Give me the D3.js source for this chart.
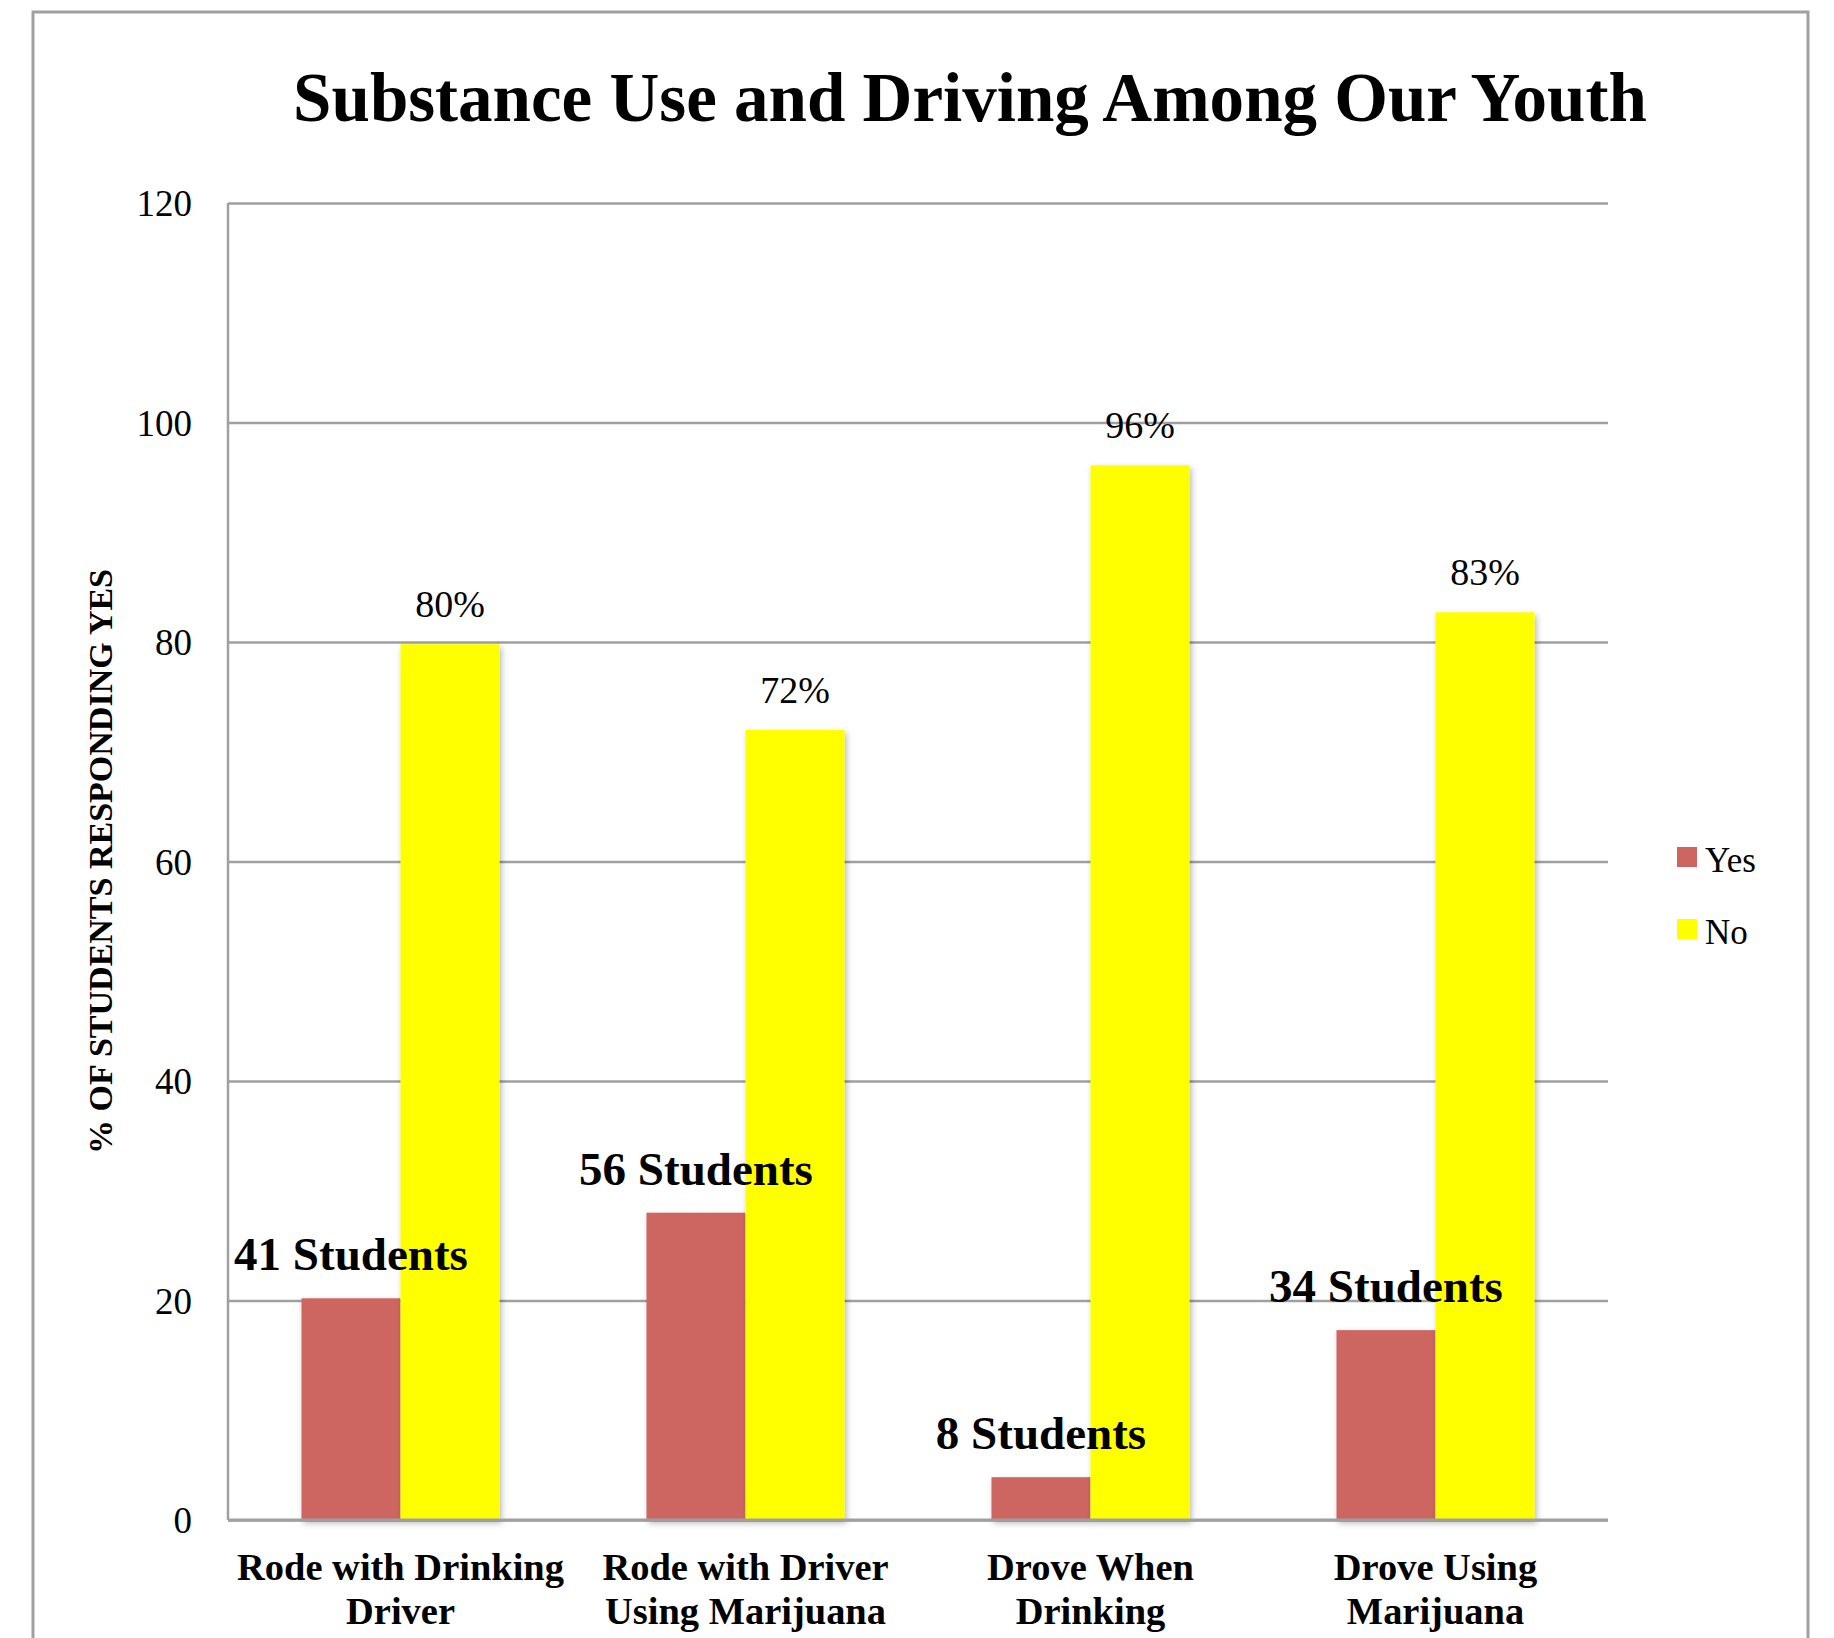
<!DOCTYPE html>
<html>
<head>
<meta charset="utf-8">
<script src="https://cdn.jsdelivr.net/npm/d3@7"></script>
<style>
  html, body { margin: 0; padding: 0; background: #fff; }
  svg { display: block; }
  text { font-family: "Liberation Serif", "Times New Roman", serif; fill: #000; }
</style>
</head>
<body>
<svg id="chart" width="1834" height="1638"></svg>
<script>
// ---- data ----
const categories = [
  ["Rode with Drinking", "Driver"],
  ["Rode with Driver", "Using Marijuana"],
  ["Drove When", "Drinking"],
  ["Drove Using", "Marijuana"]
];
const seriesNames = ["Yes", "No"];
const yesValues = [20.2, 28.0, 3.9, 17.3];
const noValues = [79.8, 72.0, 96.1, 82.7];
const yesLabels = ["41 Students", "56 Students", "8 Students", "34 Students"];
const noLabels = ["80%", "72%", "96%", "83%"];
const yTicks = [0, 20, 40, 60, 80, 100, 120];
const colors = ["#CD6660", "#FFFF00"];
const titleText = "Substance Use and Driving Among Our Youth";
const yTitleText = "% OF STUDENTS RESPONDING YES";

// ---- layout ----
const svg = d3.select("#chart");
const plot = { left: 228, right: 1608, top: 203, bottom: 1520 };

function fitWidth(sel, target) {
  const node = sel.node();
  const fs = parseFloat(sel.attr("font-size"));
  const w = node.getComputedTextLength();
  sel.attr("font-size", (fs * target / w).toFixed(2));
}

// outer border
svg.append("rect")
  .attr("x", 33).attr("y", 12)
  .attr("width", 1808 - 33).attr("height", 1700)
  .attr("fill", "none").attr("stroke", "#a0a0a0").attr("stroke-width", 3);

// drop shadow filter
const defs = svg.append("defs");
const f = defs.append("filter").attr("id", "shadow")
  .attr("x", "-10%").attr("y", "-10%").attr("width", "130%").attr("height", "130%");
f.append("feDropShadow").attr("dx", 2).attr("dy", 3).attr("stdDeviation", 3)
  .attr("flood-color", "#000").attr("flood-opacity", 0.28);

const y = d3.scaleLinear().domain([0, 120]).range([plot.bottom, plot.top]);
const x0 = d3.scaleBand().domain(d3.range(categories.length))
  .range([plot.left, plot.right]).paddingInner(0.426).paddingOuter(0.213);
const x1 = d3.scaleBand().domain(seriesNames).range([0, x0.bandwidth()]);

// grid lines
const yAxis = d3.axisLeft(y).tickValues(yTicks)
  .tickSize(-(plot.right - plot.left)).tickPadding(36).tickFormat(d3.format("d"));
const gy = svg.append("g").attr("transform", `translate(${plot.left},0)`).call(yAxis);
gy.select(".domain").remove();
gy.selectAll(".tick line").attr("stroke", "#a0a0a0").attr("stroke-width", 2.5);
gy.selectAll(".tick text")
  .attr("font-family", "Liberation Serif, serif")
  .attr("font-size", 37).attr("fill", "#000").attr("dy", "0.34em");

// left axis line
svg.append("line")
  .attr("x1", plot.left).attr("x2", plot.left)
  .attr("y1", y(120)).attr("y2", y(0))
  .attr("stroke", "#a0a0a0").attr("stroke-width", 2.5);

// bars
const data = categories.map((c, i) => ({ i, vals: [yesValues[i], noValues[i]] }));
const groups = svg.append("g").selectAll("g").data(data).join("g")
  .attr("transform", d => `translate(${x0(d.i)},0)`);
groups.selectAll("rect")
  .data(d => d.vals.map((v, k) => ({ k, v })))
  .join("rect")
  .attr("x", d => x1(seriesNames[d.k]))
  .attr("y", d => y(d.v))
  .attr("width", x1.bandwidth())
  .attr("height", d => y(0) - y(d.v))
  .attr("fill", d => colors[d.k])
  .attr("filter", "url(#shadow)");

// baseline redraw on top
svg.append("line")
  .attr("x1", plot.left).attr("x2", plot.right)
  .attr("y1", y(0)).attr("y2", y(0))
  .attr("stroke", "#a0a0a0").attr("stroke-width", 3);

// "No" percentage labels
svg.append("g").selectAll("text").data(data).join("text")
  .attr("x", d => x0(d.i) + x1("No") + x1.bandwidth() / 2)
  .attr("y", d => y(noValues[d.i]) - 27)
  .attr("text-anchor", "middle")
  .attr("font-size", 38)
  .text(d => noLabels[d.i]);

// "Yes" student labels
svg.append("g").selectAll("text").data(data).join("text")
  .attr("x", d => x0(d.i) + x1("Yes") + x1.bandwidth() / 2)
  .attr("y", d => y(yesValues[d.i]) - 28)
  .attr("text-anchor", "middle")
  .attr("font-size", 47).attr("font-weight", "bold")
  .text(d => yesLabels[d.i]);

// category labels
const catG = svg.append("g");
const catTexts = catG.selectAll("text").data(data).join("text")
  .attr("text-anchor", "middle")
  .attr("font-size", 36).attr("font-weight", "bold")
  .attr("transform", d => `translate(${x0(d.i) + x0.bandwidth() / 2},0)`);
catTexts.each(function(d) {
  const t = d3.select(this);
  categories[d.i].forEach((line, li) => {
    t.append("tspan").attr("x", 0).attr("y", 1580 + li * 44).text(line);
  });
});
// fit category font so "Rode with Drinking" matches the reference width
{
  const first = catTexts.filter(d => d.i === 0).select("tspan").node();
  const w = first.getComputedTextLength();
  const fs = 36 * 327 / w;
  catTexts.attr("font-size", fs.toFixed(2));
}

// title
const title = svg.append("text")
  .attr("x", 970).attr("y", 121)
  .attr("text-anchor", "middle")
  .attr("font-size", 70).attr("font-weight", "bold")
  .text(titleText);
fitWidth(title, 1354);

// y axis title
const yTitle = svg.append("text")
  .attr("transform", `translate(112,${(plot.top + plot.bottom) / 2}) rotate(-90)`)
  .attr("text-anchor", "middle")
  .attr("font-size", 34).attr("font-weight", "bold")
  .text(yTitleText);
fitWidth(yTitle, 585);

// legend
const legend = svg.append("g").attr("transform", "translate(1677,847)");
const li = legend.selectAll("g").data(seriesNames).join("g")
  .attr("transform", (d, i) => `translate(0,${i * 72})`);
li.append("rect").attr("width", 20).attr("height", 20)
  .attr("fill", (d, i) => colors[i]);
li.append("text").attr("x", 28).attr("y", 25)
  .attr("font-size", 35).text(d => d);
</script>
</body>
</html>
